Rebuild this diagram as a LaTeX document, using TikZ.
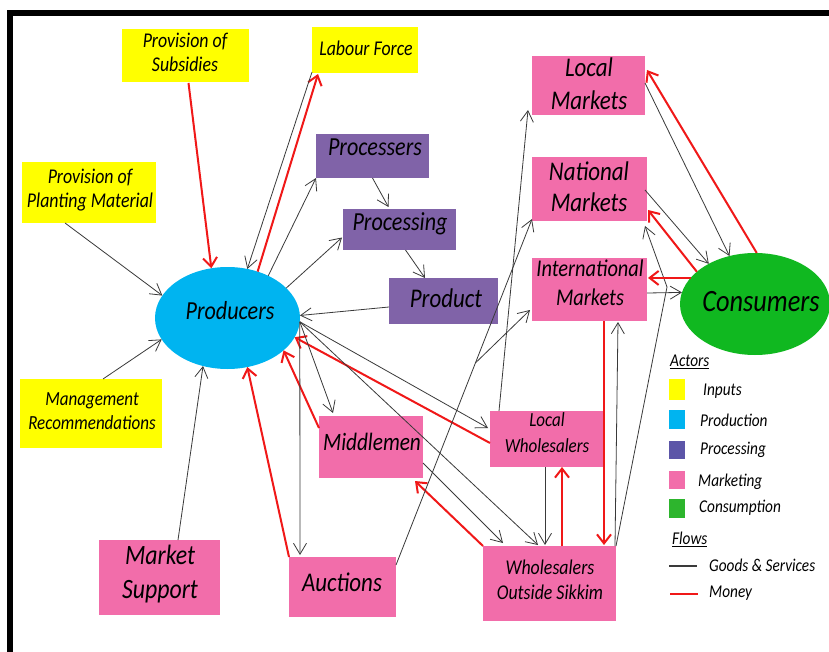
\documentclass[tikz,border=0pt]{standalone}
\usepackage{fontspec}
\newfontfamily\hand{Carlito}[FakeStretch=0.85]
\usetikzlibrary{arrows.meta,calc,shapes.geometric}

\definecolor{inputc}{HTML}{FFFF00}
\definecolor{prodc}{HTML}{00B4F0}
\definecolor{procc}{HTML}{8063A8}
\definecolor{mktc}{HTML}{F26DAA}
\definecolor{consc}{HTML}{10B820}
\definecolor{legproc}{HTML}{5C55A8}
\definecolor{legcons}{HTML}{2DB52D}
\definecolor{goods}{HTML}{3A3A3A}
\definecolor{money}{HTML}{F01818}

\begin{document}
\begin{tikzpicture}[x=1pt,y=-1pt,
  box/.style={rectangle, fill=#1, draw=none, inner sep=0pt, outer sep=0pt},
  oval/.style={ellipse, fill=#1, draw=none, inner sep=0pt, outer sep=0pt},
  txt/.style 2 args={inner sep=0pt, align=center, text=black,
    font=\hand\itshape\fontsize{#1}{#2}\selectfont},
  goodsflow/.style={draw=goods, line width=0.8pt, -{Straight Barb[length=11pt,width=13pt]}},
  moneyflow/.style={draw=money, line width=2pt, -{Straight Barb[length=9pt,width=14pt]}}]

\useasboundingbox (0,0) rectangle (829,652);
\fill[white] (0,0) rectangle (829,652);
\draw[line width=6pt] (10,13.5) rectangle (850,680);

% inputs
\node[box=inputc, minimum width=127pt, minimum height=53pt] (sub) at (185.5,55.5) {};
\node[txt={21}{24}] (subT) at (185,52) {Provision of\\Subsidies};
\node[box=inputc, minimum width=106pt, minimum height=46pt] (lab) at (365,50) {};
\node[txt={21}{24}] (labT) at (366,48) {Labour Force};
\node[box=inputc, minimum width=134pt, minimum height=61pt] (plant) at (89,192.5) {};
\node[txt={21}{24}] (plantT) at (90,190) {Provision of\\Planting Material};
\node[box=inputc, minimum width=142pt, minimum height=69pt] (mgmt) at (91,413.5) {};
\node[txt={20}{24}] (mgmtT) at (92,411) {Management\\Recommendations};

% production
\node[oval=prodc, minimum width=145pt, minimum height=102pt] (prod) at (227.5,318) {};
\node[txt={26}{30}] (prodT) at (230,311) {Producers};

% processing
\node[box=procc, minimum width=113pt, minimum height=44pt] (procs) at (372.5,156) {};
\node[txt={26}{30}] (procsT) at (375,147) {Processers};
\node[box=procc, minimum width=113pt, minimum height=41pt] (procg) at (399.5,229.5) {};
\node[txt={26}{30}] (procgT) at (400,224) {Processing};
\node[box=procc, minimum width=109pt, minimum height=46pt] (prdt) at (443.5,301) {};
\node[txt={27}{30}] (prdtT) at (446,298) {Product};

% marketing
\node[box=mktc, minimum width=113pt, minimum height=59pt] (lm) at (588.5,85.5) {};
\node[txt={27}{33}] (lmT) at (589,84) {Local\\Markets};
\node[box=mktc, minimum width=115pt, minimum height=64pt] (nm) at (589.5,189) {};
\node[txt={27}{31}] (nmT) at (589,187) {National\\Markets};
\node[box=mktc, minimum width=115pt, minimum height=63pt] (im) at (589.5,289.5) {};
\node[txt={24}{29}] (imT) at (590,283) {International\\Markets};
\node[box=mktc, minimum width=104pt, minimum height=62pt] (mid) at (371,447) {};
\node[txt={25}{30}] (midT) at (372,442) {Middlemen};
\node[box=mktc, minimum width=113pt, minimum height=56pt] (lw) at (546.5,439) {};
\node[txt={20}{26}] (lwT) at (547,433) {Local\\Wholesalers};
\node[box=mktc, minimum width=133pt, minimum height=75pt] (wos) at (549.5,583.5) {};
\node[txt={21}{25}] (wosT) at (550,580) {Wholesalers\\Outside Sikkim};
\node[box=mktc, minimum width=121pt, minimum height=75pt] (ms) at (159.5,577.5) {};
\node[txt={28}{34}] (msT) at (160,574) {Market\\Support};
\node[box=mktc, minimum width=107pt, minimum height=60pt] (auc) at (342.5,587) {};
\node[txt={27}{30}] (aucT) at (342,582) {Auctions};

% consumption
\node[oval=consc, minimum width=150pt, minimum height=102pt] (cons) at (755,304) {};
\node[txt={31}{34}] (consT) at (761,302) {Consumers};

% flows around the producers
\draw[moneyflow] ($(sub.south)+(3,1)$) -- (prod.108.6);
\draw[moneyflow] (prod.57) -- ($(lab.south west)+(6,1)$);
\draw[goodsflow] ($(lab.south west)+(0,-1)$) -- (prod.68);
\draw[goodsflow] (prod.46.7) -- (procs.south west);
\draw[goodsflow] (prod.27.5) -- ($(procg.west)+(-1,8)$);
\draw[goodsflow] (procs.south) -- ($(procg.north)+(-11,-2)$);
\draw[goodsflow] ($(procg.south)+(6,0)$) -- ($(prdt.north)+(-18.5,0)$);
\draw[goodsflow] ($(prdt.west)+(0,6)$) -- (prod.2);
\draw[goodsflow] ($(plant.south west)+(43,0)$) -- (prod.161.4);
\draw[goodsflow] ($(mgmt.north)+(12,0)$) -- (prod.198.8);
\draw[goodsflow] ($(ms.north)+(18.5,0)$) -- (prod.243);
\draw[moneyflow] (auc.north west) -- (prod.292.7);
\draw[moneyflow] ($(mid.west)+(0,-19)$) -- (prod.330.3);
\draw[moneyflow] ($(lw.west)+(0,4)$) -- (prod.344.3);
\draw[goodsflow] (prod.-3) -- ($(auc.north west)+(11,-2)$);
\draw[goodsflow] (prod.-3) -- ($(mid.north west)+(14,-3)$);
\draw[goodsflow] (prod.-3) -- ($(lw.west)+(-2,-11)$);
\draw[goodsflow] (prod.-3) -- ($(wos.north west)+(55,-1)$);

% flows between traders
\draw[goodsflow] ($(mid.east)+(0,16)$) -- ($(wos.north west)+(20,-3)$);
\draw[goodsflow] ($(lw.south)+(-1.5,0)$) -- ($(wos.north)+(-4.5,-1)$);
\draw[moneyflow] ($(wos.north)+(12.5,0)$) -- ($(lw.south)+(15.5,0)$);
\draw[moneyflow] (wos.north west) -- ($(mid.south east)+(-8,3)$);
\draw[moneyflow] ($(im.south)+(14.5,0)$) -- ($(wos.north)+(54.5,-1)$);
\draw[goodsflow] ($(wos.north east)+(-1,0)$) -- ($(im.south)+(28.5,1)$);
\coordinate (kink) at (667,287);
\draw[goodsflow] (wos.north east) -- (kink) -- ($(nm.south east)+(-2,5)$);
\draw[goodsflow] ($(lw.north west)+(9,0)$) -- ($(lm.south west)+(-4,-5)$);
\coordinate (aucout) at ($(auc.north east)+(0,8)$);
\coordinate (nmin) at ($(nm.south west)+(0,-2)$);
\coordinate (fork) at ($(aucout)!0.584!(nmin)$);
\draw[goodsflow] (aucout) -- (nmin);
\draw[goodsflow] (fork) -- ($(im.west)+(-2,20.5)$);

% markets and consumers
\draw[goodsflow] ($(lm.east)+(0,-2.5)$) -- (cons.118);
\draw[moneyflow] (cons.88) -- ($(lm.north east)+(2,14)$);
\draw[goodsflow] ($(nm.east)+(-2,1)$) -- (cons.139.5);
\draw[moneyflow] (cons.151) -- ($(nm.south east)+(1,-11)$);
\draw[moneyflow] (cons.158) -- ($(cons.158 -| im.east)+(1,0)$);
\draw[goodsflow] ($(im.east)+(0,3.5)$) -- (cons.171.5);

% legend
\node[txt={18}{20}, anchor=west] (actors) at (670,362) {\underline{Actors}};
\node[box=inputc, minimum width=16pt, minimum height=21pt] (kin) at (677,389.5) {};
\node[box=prodc, minimum width=16pt, minimum height=19pt] (kpr) at (677,419.5) {};
\node[box=legproc, minimum width=16pt, minimum height=18pt] (kpc) at (677,450) {};
\node[box=mktc, minimum width=16pt, minimum height=18pt] (kmk) at (677,480) {};
\node[box=legcons, minimum width=16pt, minimum height=19pt] (kcs) at (677,508.5) {};
\node[txt={18}{20}, anchor=west] (kinT) at (703,391) {Inputs};
\node[txt={18}{20}, anchor=west] (kprT) at (700,420) {Production};
\node[txt={18}{20}, anchor=west] (kpcT) at (700,450) {Processing};
\node[txt={18}{20}, anchor=west] (kmkT) at (698,482) {Marketing};
\node[txt={18}{20}, anchor=west] (kcsT) at (699,508) {Consumption};
\node[txt={18}{20}, anchor=west] (flows) at (672,539) {\underline{Flows}};
\coordinate (kga) at (669,566);
\coordinate (kgb) at (697,566);
\draw[goods, line width=2.5pt] (kga) -- (kgb);
\node[txt={18}{20}, anchor=west] (kgT) at (709,565) {Goods \& Services};
\coordinate (kma) at (670,594);
\coordinate (kmb) at (698,594);
\draw[money, line width=2.5pt] (kma) -- (kmb);
\node[txt={18}{20}, anchor=west] (kmT) at (709,593) {Money};
\end{tikzpicture}
\end{document}
